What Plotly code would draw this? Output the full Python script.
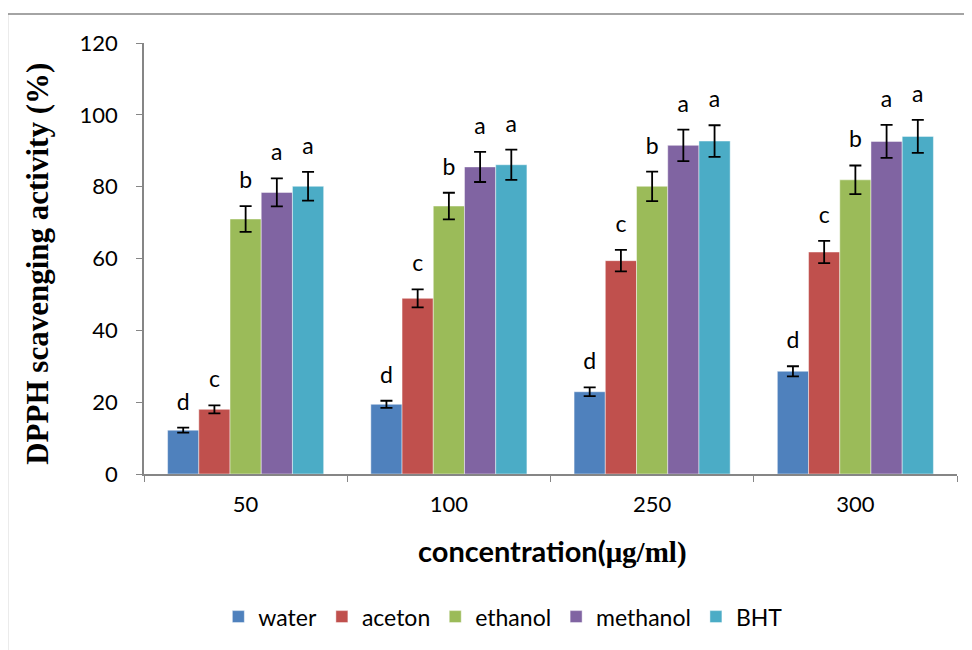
import plotly.graph_objects as go

categories = ["50", "100", "250", "300"]
series_names = ["water", "aceton", "ethanol", "methanol", "BHT"]
water = [12.2, 19.4, 22.9, 28.6]
aceton = [18.0, 48.9, 59.4, 61.8]
ethanol = [71.0, 74.6, 80.1, 81.9]
methanol = [78.4, 85.5, 91.5, 92.6]
bht = [80.1, 86.1, 92.7, 94.0]
water_err = [0.7, 1.0, 1.2, 1.4]
aceton_err = [1.1, 2.5, 3.0, 3.1]
ethanol_err = [3.6, 3.7, 4.1, 4.0]
methanol_err = [3.9, 4.2, 4.4, 4.6]
bht_err = [4.0, 4.2, 4.4, 4.6]
letters = ["d", "c", "b", "a", "a"]
colors = ["#4F81BD", "#C0504D", "#9BBB59", "#8064A2", "#4BACC6"]
y_ticks = [0, 20, 40, 60, 80, 100, 120]

values = [water, aceton, ethanol, methanol, bht]
errors = [water_err, aceton_err, ethanol_err, methanol_err, bht_err]

fig = go.Figure()
for name, vals, errs, col in zip(series_names, values, errors, colors):
    fig.add_trace(go.Bar(
        x=categories, y=vals, name=name, offsetgroup=name,
        marker=dict(color=col, line=dict(color="rgba(255,255,255,0.45)", width=1)),
        error_y=dict(type="data", array=errs, visible=True, color="black",
                     thickness=1.8, width=6),
    ))
for name, vals, errs, let in zip(series_names, values, errors, letters):
    fig.add_trace(go.Scatter(
        x=categories, y=[v + e for v, e in zip(vals, errs)],
        mode="markers+text", text=[let] * len(categories),
        textposition="top center", offsetgroup=name,
        marker=dict(size=18, opacity=0),
        textfont=dict(family="Lato", size=23, color="black"),
        showlegend=False, hoverinfo="skip",
    ))

axis_col = "#868686"
fig.update_layout(
    width=964, height=642,
    margin=dict(l=136, r=15, t=35, b=176),
    paper_bgcolor="white", plot_bgcolor="white",
    barmode="group", bargap=0.232, bargroupgap=0,
    scattermode="group",
    font=dict(family="Lato", size=22, color="black"),
    xaxis=dict(type="category", showline=True, linecolor=axis_col, linewidth=1.5,
               ticks="outside", tickson="boundaries", ticklen=6, tickcolor=axis_col,
               tickfont=dict(family="Lato", size=22, color="black"),
               ticklabelstandoff=10, showgrid=False, zeroline=False),
    yaxis=dict(range=[0, 120], tickvals=y_ticks, showline=True, linecolor=axis_col,
               linewidth=1.5, ticks="outside", ticklen=6, tickcolor=axis_col,
               tickfont=dict(family="Lato", size=22, color="black"),
               ticklabelstandoff=14, showgrid=False, zeroline=False),
    legend=dict(orientation="h", x=0.442, xanchor="center", y=-0.331, yanchor="middle",
                font=dict(family="Lato", size=23, color="black"), traceorder="normal"),
    annotations=[
        dict(text="DPPH scavenging activity (%)", xref="paper", yref="paper",
             x=-0.132, y=0.487, xanchor="center", yanchor="middle", textangle=-90,
             showarrow=False,
             font=dict(family="Liberation Serif", size=31, color="black", weight="bold")),
        dict(text="concentration(<span style=\"font-family:'Liberation Serif'\">\u03bcg/ml)</span>",
             xref="paper", yref="paper", x=0.502, y=-0.178, xanchor="center",
             yanchor="middle", showarrow=False,
             font=dict(family="Lato", size=29, color="black", weight="bold")),
    ],
    shapes=[dict(type="rect", xref="paper", yref="paper", x0=-0.168, x1=1.1,
                 y0=-0.5, y1=1.067, line=dict(color=axis_col, width=1.5),
                 fillcolor="rgba(0,0,0,0)", layer="below")],
)

fig.write_html("out.html")
